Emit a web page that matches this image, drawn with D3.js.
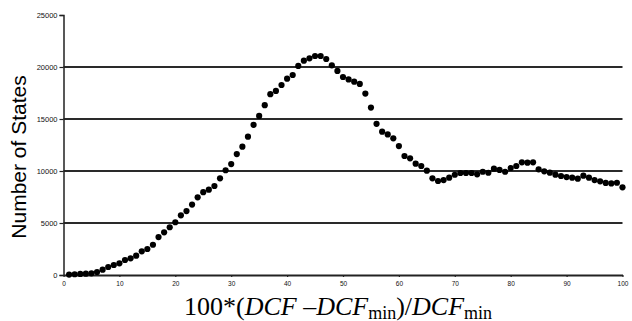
<!DOCTYPE html>
<html>
<head>
<meta charset="utf-8">
<script src="https://cdn.jsdelivr.net/npm/d3@7"></script>
<style>
  body { margin: 0; background: #fff; }
  svg { display: block; }
</style>
</head>
<body>
<script>

// percent deviation from DCF minimum (x) and number of states (y)
var pct = [1,2,3,4,5,6,7,8,9,10,11,12,13,14,15,16,17,18,19,20,
           21,22,23,24,25,26,27,28,29,30,31,32,33,34,35,36,37,38,39,40,
           41,42,43,44,45,46,47,48,49,50,51,52,53,54,55,56,57,58,59,60,
           61,62,63,64,65,66,67,68,69,70,71,72,73,74,75,76,77,78,79,80,
           81,82,83,84,85,86,87,88,89,90,91,92,93,94,95,96,97,98,99,100];

var states = [40,70,100,130,160,290,510,770,960,1120,
              1440,1600,1860,2280,2500,2910,3650,4100,4590,5070,
              5740,6150,6770,7470,7960,8200,8560,9300,10070,10670,
              11630,12340,13300,14440,15300,16330,17390,17700,18270,18880,
              19230,20100,20610,20830,21060,21060,20770,20160,19620,19040,
              18810,18590,18370,17440,16100,14540,13780,13520,13140,12400,
              11440,11220,10700,10480,10030,9300,9040,9130,9360,9640,
              9810,9810,9810,9680,9930,9830,10220,10100,9930,10290,
              10480,10830,10800,10830,10160,9970,9840,9650,9520,9420,
              9360,9260,9550,9360,9130,9010,8850,8810,8870,8430];

var xTicks = [0,10,20,30,40,50,60,70,80,90,100];
var yTicks = [0,5000,10000,15000,20000,25000];
var gridVals = [5000,10000,15000,20000];

var W = 632, H = 321;

var svg = d3.select("body").append("svg")
    .attr("width", W)
    .attr("height", H);

var x = d3.scaleLinear().domain([0, 100]).range([63.5, 622.5]);
var y = d3.scaleLinear().domain([0, 25000]).range([275, 15]);

// grid lines
svg.append("g")
  .selectAll("line")
  .data(gridVals)
  .enter().append("line")
    .attr("x1", x(0))
    .attr("x2", x(100))
    .attr("y1", function(d) { return y(d); })
    .attr("y2", function(d) { return y(d); })
    .attr("stroke", "#2a2a2a")
    .attr("stroke-width", 1.8);

// y axis
var yAxis = svg.append("g")
    .attr("transform", "translate(" + x(0) + ",0)")
    .call(d3.axisLeft(y).tickValues(yTicks).tickSize(4).tickPadding(2)
          .tickFormat(d3.format("d")));
yAxis.select(".domain").attr("stroke", "#222").attr("stroke-width", 1.5);
yAxis.selectAll(".tick line").attr("stroke", "#222").attr("stroke-width", 1.2);
yAxis.selectAll("text")
    .attr("font-family", "Liberation Sans, Arial, sans-serif")
    .attr("font-size", 7.5)
    .attr("fill", "#111");

// x axis
var xAxis = svg.append("g")
    .attr("transform", "translate(0," + y(0) + ")")
    .call(d3.axisBottom(x).tickValues(xTicks).tickSize(2).tickPadding(4)
          .tickSizeOuter(0));
xAxis.select(".domain").attr("stroke", "#222").attr("stroke-width", 1.8);
xAxis.selectAll(".tick line").attr("stroke", "#222").attr("stroke-width", 1.2);
xAxis.selectAll("text")
    .attr("font-family", "Liberation Sans, Arial, sans-serif")
    .attr("font-size", 6.5)
    .attr("fill", "#111");

// points
svg.append("g")
  .selectAll("circle")
  .data(pct)
  .enter().append("circle")
    .attr("cx", function(d) { return x(d); })
    .attr("cy", function(d, i) { return y(states[i]); })
    .attr("r", 3.1)
    .attr("fill", "#000");

// y title
svg.append("text")
    .attr("transform", "translate(26,157) rotate(-90)")
    .attr("text-anchor", "middle")
    .attr("font-family", "Liberation Sans, Arial, sans-serif")
    .attr("font-size", 21)
    .attr("fill", "#000")
    .text("Number of States");

// x title
var xt = svg.append("text")
    .attr("x", 338)
    .attr("y", 315)
    .attr("text-anchor", "middle")
    .attr("font-family", "Liberation Serif, Times New Roman, serif")
    .attr("font-size", 26)
    .attr("fill", "#000");
xt.append("tspan").text("100*(");
xt.append("tspan").attr("font-style", "italic").text("DCF");
xt.append("tspan").text(" \u2013");
xt.append("tspan").attr("font-style", "italic").text("DCF");
xt.append("tspan").attr("font-size", 18).attr("dy", 3.5).text("min");
xt.append("tspan").attr("dy", -3.5).text(")/");
xt.append("tspan").attr("font-style", "italic").text("DCF");
xt.append("tspan").attr("font-size", 18).attr("dy", 3.5).text("min");

</script>
</body>
</html>
